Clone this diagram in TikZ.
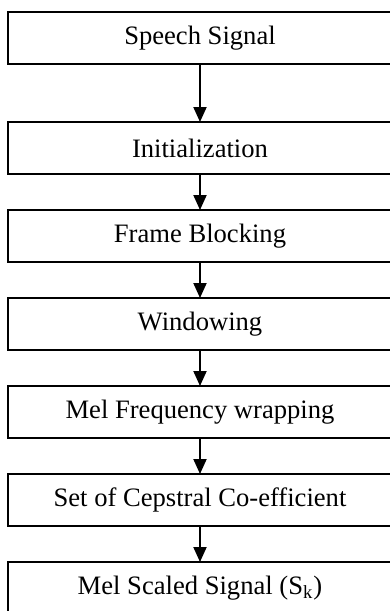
\documentclass[tikz,border=0pt]{standalone}
\usepackage{fontspec}
\setmainfont{Liberation Serif}
\usetikzlibrary{positioning,chains,arrows.meta}
\tikzset{
>={Triangle[width=6.5pt,length=7.5pt]},
  stagebox/.style={
    rectangle,
    draw=black, line width=0.7pt,
    minimum width=192pt,
    minimum height=26pt,
    outer sep=0pt,
    font=\fontsize{13.3}{16}\selectfont,
    text centered,
    on chain},
  every join/.style={->, line width=1pt},
}

\begin{document}
\begin{tikzpicture}
  [node distance=18pt,
  start chain=going below,]
     \clip (-100pt,19pt) rectangle (95pt,-286.5pt);
     \node[stagebox] (speech) {Speech Signal};
     \node[stagebox, join, yshift=-11pt] (init) {Initialization};
     \node[stagebox, join] (frame) {Frame Blocking};
     \node[stagebox, join] (window) {Windowing};
     \node[stagebox, join] (melwrap) {Mel Frequency wrapping};
     \node[stagebox, join] (cepstral) {Set of Cepstral Co-efficient};
     \node[stagebox, join] (melsig) {Mel Scaled Signal (S\textsubscript{k})};
\end{tikzpicture}
\end{document}
